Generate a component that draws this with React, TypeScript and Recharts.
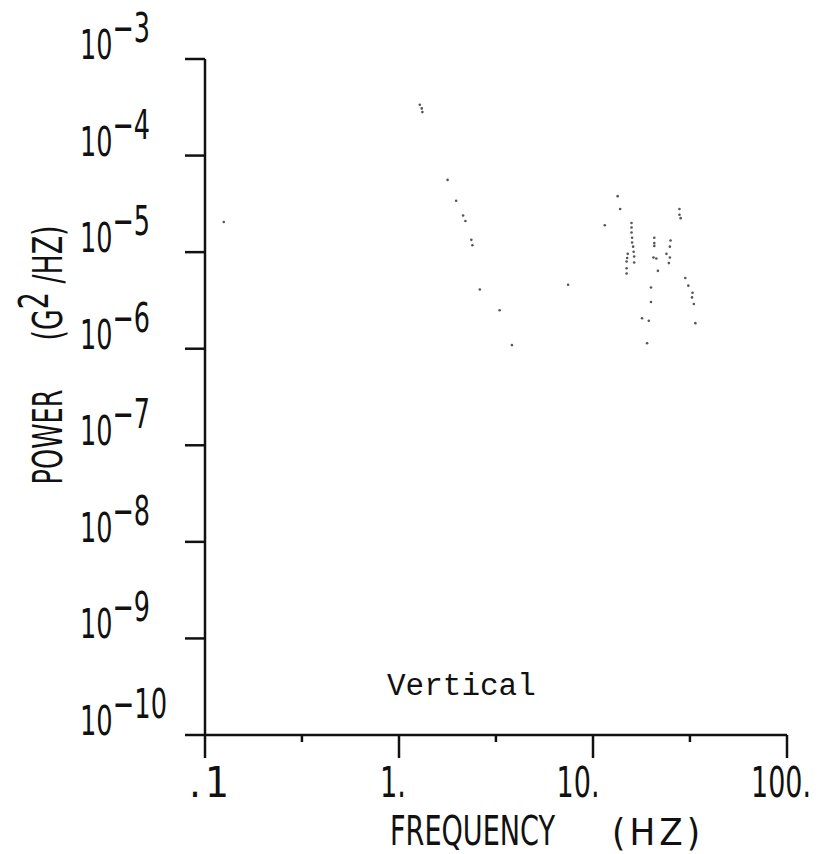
import { Scatter, ScatterChart, XAxis, YAxis } from 'recharts';

// frequency (Hz) and power (G^2/Hz), same order in both arrays
const freqHz = [
  0.125, 1.28, 1.31, 1.32, 1.78, 1.97, 2.14, 2.2, 2.36, 2.39, 2.61, 3.3, 3.82,
  7.44, 11.5, 13.4, 13.8, 14.9, 14.9, 14.9, 15.0, 15.1, 15.8, 15.8, 15.8, 15.9,
  15.9, 16.1, 16.2, 16.3, 16.3, 17.9, 19.0, 19.4, 19.9, 19.9, 20.5, 20.7, 20.7,
  20.7, 21.2, 21.6, 23.9, 24.6, 24.9, 24.9, 25.1, 27.9, 27.9, 28.3, 29.9, 31.0,
  32.4, 32.6, 33.1, 33.7,
];
const powerG2 = [
  2.05e-5, 3.36e-4, 3.08e-4, 2.82e-4, 5.6e-5, 3.4e-5, 2.4e-5, 2.1e-5, 1.34e-5,
  1.18e-5, 4.1e-6, 2.5e-6, 1.09e-6, 4.6e-6, 1.9e-5, 3.8e-5, 2.8e-5, 6.8e-6,
  6.0e-6, 8.0e-6, 8.7e-6, 9.6e-6, 2.0e-5, 1.8e-5, 1.6e-5, 1.41e-5, 1.26e-5,
  1.14e-5, 1.01e-5, 9.0e-6, 7.8e-6, 2.07e-6, 1.14e-6, 1.95e-6, 4.3e-6, 3.05e-6,
  8.8e-6, 1.41e-5, 1.24e-5, 1.16e-5, 8.6e-6, 6.4e-6, 9.6e-6, 7.7e-6, 1.14e-5,
  8.8e-6, 1.32e-5, 2.8e-5, 2.44e-5, 2.25e-5, 5.4e-6, 4.5e-6, 3.4e-6, 3.8e-6,
  2.9e-6, 1.84e-6,
];

const xTicks = [0.1, 0.316, 1, 3.16, 10, 31.6, 100];
const xTickLabels = ['.1', '', '1.', '', '10.', '', '100.'];
const yTicks = [1e-10, 1e-9, 1e-8, 1e-7, 1e-6, 1e-5, 1e-4, 1e-3];
const yTickExps = ['−10', '−9', '−8', '−7', '−6', '−5', '−4', '−3'];

// the plotter did not centre its labels on the ticks, nudge them like the original
const xLabelShift = [4, 0, -6, 0, -15, 0, -6];

const NARROW = "'Liberation Sans Narrow', 'DejaVu Sans Condensed', sans-serif";
const INK = '#111';

const findTick = (ticks: number[], v: number) =>
  ticks.findIndex((t) => Math.abs(Math.log10(t) - Math.log10(v)) < 0.01);

// plotter glyphs are very narrow, squeeze the text to that width
const glyphWidth = (s: string) =>
  s.split('').reduce((w, c) => w + (c === '.' ? 9 : c === '−' ? 15 : 17), 0);

const XTick = ({ x, y, payload }: any) => {
  const i = findTick(xTicks, payload.value);
  const label = xTickLabels[i] ?? '';
  const major = label !== '';
  const spaced = label === '.1';
  return (
    <g>
      <line x1={x} y1={y} x2={x} y2={y + (major ? 23 : 7)} stroke={INK} strokeWidth={2.5} />
      {major && (
        <text
          x={x + xLabelShift[i]}
          y={y + 62}
          textAnchor='middle'
          fontFamily={NARROW}
          fontSize={42}
          fill={INK}
          textLength={spaced ? 40 : glyphWidth(label)}
          lengthAdjust={spaced ? 'spacing' : 'spacingAndGlyphs'}
        >
          {label}
        </text>
      )}
    </g>
  );
};

const YTick = ({ x, y, payload }: any) => {
  const exp = yTickExps[findTick(yTicks, payload.value)];
  return (
    <g>
      <line x1={x - 20} y1={y} x2={x} y2={y} stroke={INK} strokeWidth={2.5} />
      <text
        x={x - 125}
        y={y}
        fontFamily={NARROW}
        fontSize={41}
        fill={INK}
        textLength={38 + glyphWidth(exp)}
        lengthAdjust='spacingAndGlyphs'
      >
        10
        <tspan dy={-17}>{exp}</tspan>
      </text>
    </g>
  );
};

export default function App() {
  const points = freqHz.map((f, i) => ({ f, p: powerG2[i] }));

  return (
    <div style={{ position: 'absolute', left: 0, top: 0, width: 820, height: 854, background: '#fff' }}>
      <ScatterChart width={820} height={854} margin={{ top: 59, right: 33, bottom: 0, left: 0 }}>
        <XAxis
          type='number'
          dataKey='f'
          scale='log'
          domain={[0.1, 100]}
          ticks={xTicks}
          allowDataOverflow
          height={119}
          tickSize={0}
          tickMargin={0}
          tickLine={false}
          tick={<XTick />}
          axisLine={{ stroke: INK, strokeWidth: 2.5 }}
        />
        <YAxis
          type='number'
          dataKey='p'
          scale='log'
          domain={[1e-10, 1e-3]}
          ticks={yTicks}
          allowDataOverflow
          width={205}
          tickSize={0}
          tickMargin={0}
          tickLine={false}
          tick={<YTick />}
          axisLine={{ stroke: INK, strokeWidth: 2.5 }}
        />
        <Scatter
          data={points}
          isAnimationActive={false}
          shape={(props: any) => <circle cx={props.cx} cy={props.cy} r={1.3} fill='#555' />}
        />

        {/* axis titles and panel note */}
        <text
          x={62}
          y={437}
          transform='rotate(-90, 62, 437)'
          textAnchor='middle'
          fontFamily={NARROW}
          fontSize={40}
          fill={INK}
          textLength={95}
          lengthAdjust='spacingAndGlyphs'
        >
          POWER
        </text>
        <text
          x={62}
          y={283}
          transform='rotate(-90, 62, 283)'
          textAnchor='middle'
          fontFamily={NARROW}
          fontSize={40}
          fill={INK}
          textLength={115}
          lengthAdjust='spacingAndGlyphs'
        >
          (G<tspan dy={-14}>2</tspan>
          <tspan dy={14}> /HZ)</tspan>
        </text>
        <text x={390} y={845} fontFamily={NARROW} fontSize={40} fill={INK} textLength={165} lengthAdjust='spacingAndGlyphs'>
          FREQUENCY
        </text>
        <text x={612} y={845} fontFamily={NARROW} fontSize={38} fill={INK} textLength={88} lengthAdjust='spacing'>
          (HZ)
        </text>
        <text x={387} y={695} fontFamily="'Liberation Mono', 'DejaVu Sans Mono', monospace" fontSize={31} fill={INK}>
          Vertical
        </text>
      </ScatterChart>
    </div>
  );
}
